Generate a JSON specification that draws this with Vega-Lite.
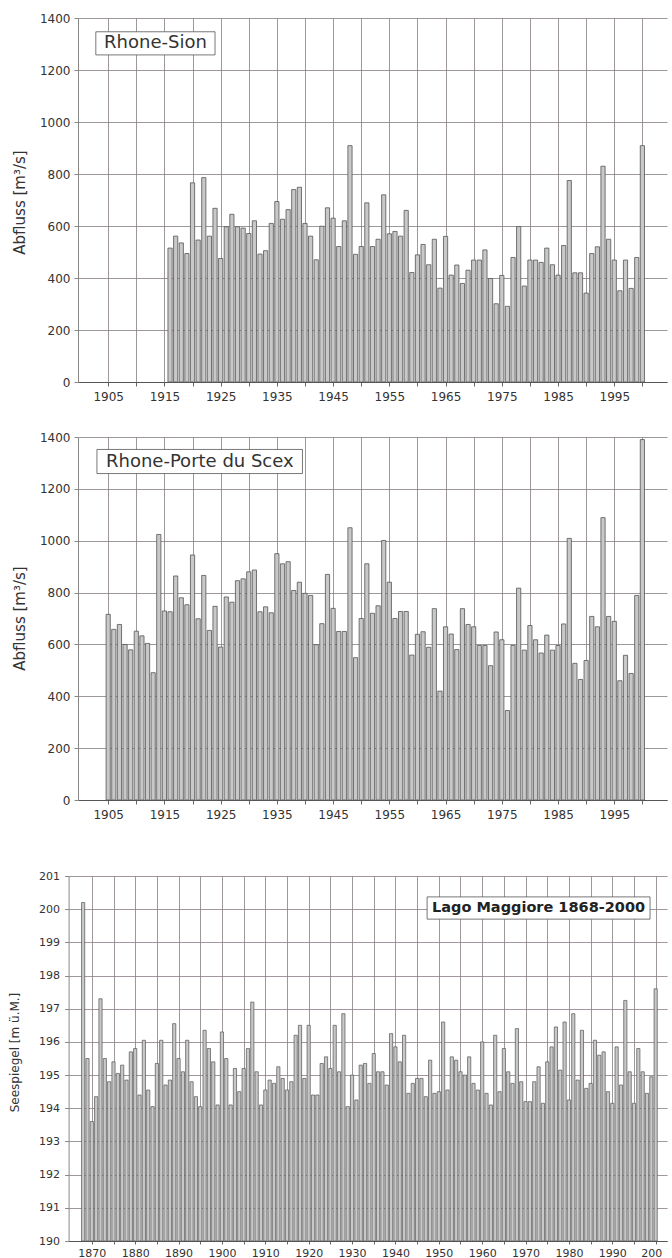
{
  "$schema": "https://vega.github.io/schema/vega-lite/v6.json",
  "background": "white",
  "padding": {"left": 8, "top": 12, "right": 0, "bottom": 0},
  "config": {"view": {"stroke": null}, "font": "DejaVu Sans"},
  "datasets": {
    "sion": [
      {"year":1916,"q":515},{"year":1917,"q":561},{"year":1918,"q":535},{"year":1919,"q":494},{"year":1920,"q":766},
      {"year":1921,"q":546},{"year":1922,"q":786},{"year":1923,"q":561},{"year":1924,"q":668},{"year":1925,"q":475},
      {"year":1926,"q":597},{"year":1927,"q":645},{"year":1928,"q":597},{"year":1929,"q":592},{"year":1930,"q":571},
      {"year":1931,"q":620},{"year":1932,"q":492},{"year":1933,"q":505},{"year":1934,"q":610},{"year":1935,"q":694},
      {"year":1936,"q":626},{"year":1937,"q":663},{"year":1938,"q":740},{"year":1939,"q":749},{"year":1940,"q":610},
      {"year":1941,"q":561},{"year":1942,"q":470},{"year":1943,"q":599},{"year":1944,"q":670},{"year":1945,"q":630},
      {"year":1946,"q":521},{"year":1947,"q":620},{"year":1948,"q":909},{"year":1949,"q":491},{"year":1950,"q":521},
      {"year":1951,"q":689},{"year":1952,"q":521},{"year":1953,"q":549},{"year":1954,"q":720},{"year":1955,"q":570},
      {"year":1956,"q":579},{"year":1957,"q":561},{"year":1958,"q":660},{"year":1959,"q":421},{"year":1960,"q":489},
      {"year":1961,"q":529},{"year":1962,"q":451},{"year":1963,"q":549},{"year":1964,"q":361},{"year":1965,"q":560},
      {"year":1966,"q":411},{"year":1967,"q":450},{"year":1968,"q":379},{"year":1969,"q":430},{"year":1970,"q":469},
      {"year":1971,"q":469},{"year":1972,"q":508},{"year":1973,"q":398},{"year":1974,"q":301},{"year":1975,"q":410},
      {"year":1976,"q":291},{"year":1977,"q":479},{"year":1978,"q":598},{"year":1979,"q":369},{"year":1980,"q":469},
      {"year":1981,"q":469},{"year":1982,"q":460},{"year":1983,"q":515},{"year":1984,"q":451},{"year":1985,"q":411},
      {"year":1986,"q":525},{"year":1987,"q":775},{"year":1988,"q":420},{"year":1989,"q":420},{"year":1990,"q":342},
      {"year":1991,"q":494},{"year":1992,"q":520},{"year":1993,"q":830},{"year":1994,"q":549},{"year":1995,"q":469},
      {"year":1996,"q":351},{"year":1997,"q":469},{"year":1998,"q":360},{"year":1999,"q":479},{"year":2000,"q":909}
    ],
    "scex": [
      {"year":1905,"q":716},{"year":1906,"q":658},{"year":1907,"q":677},{"year":1908,"q":600},{"year":1909,"q":579},
      {"year":1910,"q":651},{"year":1911,"q":633},{"year":1912,"q":604},{"year":1913,"q":491},{"year":1914,"q":1024},
      {"year":1915,"q":729},{"year":1916,"q":726},{"year":1917,"q":864},{"year":1918,"q":780},{"year":1919,"q":753},
      {"year":1920,"q":945},{"year":1921,"q":699},{"year":1922,"q":866},{"year":1923,"q":654},{"year":1924,"q":747},
      {"year":1925,"q":590},{"year":1926,"q":783},{"year":1927,"q":763},{"year":1928,"q":846},{"year":1929,"q":853},
      {"year":1930,"q":880},{"year":1931,"q":887},{"year":1932,"q":726},{"year":1933,"q":745},{"year":1934,"q":722},
      {"year":1935,"q":950},{"year":1936,"q":911},{"year":1937,"q":919},{"year":1938,"q":808},{"year":1939,"q":840},
      {"year":1940,"q":797},{"year":1941,"q":789},{"year":1942,"q":599},{"year":1943,"q":680},{"year":1944,"q":870},
      {"year":1945,"q":739},{"year":1946,"q":650},{"year":1947,"q":650},{"year":1948,"q":1050},{"year":1949,"q":549},
      {"year":1950,"q":700},{"year":1951,"q":911},{"year":1952,"q":720},{"year":1953,"q":749},{"year":1954,"q":1001},
      {"year":1955,"q":840},{"year":1956,"q":700},{"year":1957,"q":727},{"year":1958,"q":727},{"year":1959,"q":559},
      {"year":1960,"q":639},{"year":1961,"q":649},{"year":1962,"q":589},{"year":1963,"q":738},{"year":1964,"q":420},
      {"year":1965,"q":668},{"year":1966,"q":640},{"year":1967,"q":580},{"year":1968,"q":738},{"year":1969,"q":677},
      {"year":1970,"q":668},{"year":1971,"q":596},{"year":1972,"q":596},{"year":1973,"q":518},{"year":1974,"q":648},
      {"year":1975,"q":618},{"year":1976,"q":345},{"year":1977,"q":596},{"year":1978,"q":817},{"year":1979,"q":578},
      {"year":1980,"q":673},{"year":1981,"q":618},{"year":1982,"q":567},{"year":1983,"q":636},{"year":1984,"q":578},
      {"year":1985,"q":596},{"year":1986,"q":679},{"year":1987,"q":1009},{"year":1988,"q":527},{"year":1989,"q":465},
      {"year":1990,"q":538},{"year":1991,"q":708},{"year":1992,"q":668},{"year":1993,"q":1089},{"year":1994,"q":708},
      {"year":1995,"q":689},{"year":1996,"q":460},{"year":1997,"q":558},{"year":1998,"q":488},{"year":1999,"q":789},
      {"year":2000,"q":1390}
    ],
    "lago": [
      {"year":1868,"h":200.2},{"year":1869,"h":195.5},{"year":1870,"h":193.6},{"year":1871,"h":194.35},{"year":1872,"h":197.3},
      {"year":1873,"h":195.5},{"year":1874,"h":194.8},{"year":1875,"h":195.4},{"year":1876,"h":195.05},{"year":1877,"h":195.3},
      {"year":1878,"h":194.85},{"year":1879,"h":195.7},{"year":1880,"h":195.8},{"year":1881,"h":194.4},{"year":1882,"h":196.05},
      {"year":1883,"h":194.55},{"year":1884,"h":194.05},{"year":1885,"h":195.35},{"year":1886,"h":196.05},{"year":1887,"h":194.7},
      {"year":1888,"h":194.85},{"year":1889,"h":196.55},{"year":1890,"h":195.5},{"year":1891,"h":195.1},{"year":1892,"h":196.05},
      {"year":1893,"h":194.8},{"year":1894,"h":194.35},{"year":1895,"h":194.05},{"year":1896,"h":196.35},{"year":1897,"h":195.8},
      {"year":1898,"h":195.4},{"year":1899,"h":194.1},{"year":1900,"h":196.3},{"year":1901,"h":195.5},{"year":1902,"h":194.1},
      {"year":1903,"h":195.2},{"year":1904,"h":194.5},{"year":1905,"h":195.2},{"year":1906,"h":195.8},{"year":1907,"h":197.2},
      {"year":1908,"h":195.1},{"year":1909,"h":194.1},{"year":1910,"h":194.55},{"year":1911,"h":194.85},{"year":1912,"h":194.75},
      {"year":1913,"h":195.25},{"year":1914,"h":194.9},{"year":1915,"h":194.55},{"year":1916,"h":194.8},{"year":1917,"h":196.2},
      {"year":1918,"h":196.5},{"year":1919,"h":194.9},{"year":1920,"h":196.5},{"year":1921,"h":194.4},{"year":1922,"h":194.4},
      {"year":1923,"h":195.35},{"year":1924,"h":195.55},{"year":1925,"h":195.2},{"year":1926,"h":196.5},{"year":1927,"h":195.1},
      {"year":1928,"h":196.85},{"year":1929,"h":194.05},{"year":1930,"h":195.0},{"year":1931,"h":194.25},{"year":1932,"h":195.3},
      {"year":1933,"h":195.35},{"year":1934,"h":194.75},{"year":1935,"h":195.65},{"year":1936,"h":195.1},{"year":1937,"h":195.1},
      {"year":1938,"h":194.7},{"year":1939,"h":196.25},{"year":1940,"h":195.85},{"year":1941,"h":195.4},{"year":1942,"h":196.2},
      {"year":1943,"h":194.45},{"year":1944,"h":194.75},{"year":1945,"h":194.9},{"year":1946,"h":194.9},{"year":1947,"h":194.35},
      {"year":1948,"h":195.45},{"year":1949,"h":194.45},{"year":1950,"h":194.5},{"year":1951,"h":196.6},{"year":1952,"h":194.55},
      {"year":1953,"h":195.55},{"year":1954,"h":195.45},{"year":1955,"h":195.1},{"year":1956,"h":195.0},{"year":1957,"h":195.55},
      {"year":1958,"h":194.75},{"year":1959,"h":194.55},{"year":1960,"h":196.0},{"year":1961,"h":194.45},{"year":1962,"h":194.1},
      {"year":1963,"h":196.2},{"year":1964,"h":194.5},{"year":1965,"h":195.8},{"year":1966,"h":195.1},{"year":1967,"h":194.75},
      {"year":1968,"h":196.4},{"year":1969,"h":194.8},{"year":1970,"h":194.2},{"year":1971,"h":194.2},{"year":1972,"h":194.8},
      {"year":1973,"h":195.25},{"year":1974,"h":194.15},{"year":1975,"h":195.4},{"year":1976,"h":195.85},{"year":1977,"h":196.45},
      {"year":1978,"h":195.15},{"year":1979,"h":196.6},{"year":1980,"h":194.25},{"year":1981,"h":196.85},{"year":1982,"h":194.85},
      {"year":1983,"h":196.35},{"year":1984,"h":194.6},{"year":1985,"h":194.75},{"year":1986,"h":196.05},{"year":1987,"h":195.6},
      {"year":1988,"h":195.7},{"year":1989,"h":194.5},{"year":1990,"h":194.15},{"year":1991,"h":195.85},{"year":1992,"h":194.7},
      {"year":1993,"h":197.25},{"year":1994,"h":195.1},{"year":1995,"h":194.15},{"year":1996,"h":195.8},{"year":1997,"h":195.1},
      {"year":1998,"h":194.45},{"year":1999,"h":194.95},{"year":2000,"h":197.6}
    ]
  },
  "spacing": 50,
  "vconcat": [
    {
      "spacing": 29,
      "vconcat": [
        {
          "width": 589, "height": 364,
          "layer": [
            {
              "data": {"name": "sion"},
              "mark": {"type": "bar", "width": 4.2, "fill": "#c8c8c8", "stroke": "#555555", "strokeWidth": 0.8, "clip": true},
              "encoding": {
                "x": {"field": "year", "type": "quantitative",
                  "scale": {"domain": [1900.52, 2003.49], "nice": false, "zero": false},
                  "axis": {"values": [1905,1910,1915,1920,1925,1930,1935,1940,1945,1950,1955,1960,1965,1970,1975,1980,1985,1990,1995,2000],
                    "tickCount": 200, "format": "d", "labelExpr": "datum.value % 10 == 5 ? datum.label : ''",
                    "grid": true, "gridColor": "#857d7d", "gridWidth": 0.8,
                    "ticks": true, "tickSize": 4, "tickColor": "#666666", "domainColor": "#555555",
                    "labelFont": "DejaVu Sans", "labelFontSize": 12, "labelColor": "#333333", "labelPadding": 5,
                    "labelFlush": false, "labelOverlap": false, "labelBound": false, "title": null}},
                "y": {"field": "q", "type": "quantitative",
                  "scale": {"domain": [0, 1400], "nice": false},
                  "axis": {"values": [0,200,400,600,800,1000,1200,1400], "tickCount": 200, "format": "d",
                    "grid": true, "gridColor": "#857d7d", "gridWidth": 0.8,
                    "ticks": true, "tickSize": 4, "tickColor": "#888888", "domainColor": "#888888",
                    "labelFont": "DejaVu Sans", "labelFontSize": 12, "labelColor": "#333333", "labelPadding": 4, "labelOverlap": false,
                    "title": "Abfluss [m³/s]", "titleFont": "DejaVu Sans", "titleFontSize": 15, "titleFontWeight": "normal", "titleColor": "#333333",
                    "titleAngle": -90, "titleAlign": "center", "titleBaseline": "middle", "titleX": -58.7, "titleY": 184}}
              }
            },
            {
              "data": {"values": [{"label": "Rhone-Sion"}]},
              "mark": {"type": "rect", "fill": "white", "stroke": "#555555", "strokeWidth": 0.8},
              "encoding": {
                "x": {"datum": 1902.8}, "x2": {"datum": 1924.0},
                "y": {"datum": 1347}, "y2": {"datum": 1258}
              }
            },
            {
              "data": {"values": [{"label": "Rhone-Sion"}]},
              "mark": {"type": "text", "font": "DejaVu Sans", "fontSize": 18, "color": "#333333", "align": "center", "baseline": "middle"},
              "encoding": {
                "x": {"datum": 1913.4},
                "y": {"datum": 1302},
                "text": {"field": "label"}
              }
            }
          ]
        },
        {
          "width": 589, "height": 363,
          "layer": [
            {
              "data": {"name": "scex"},
              "mark": {"type": "bar", "width": 4.2, "fill": "#c8c8c8", "stroke": "#555555", "strokeWidth": 0.8, "clip": true},
              "encoding": {
                "x": {"field": "year", "type": "quantitative",
                  "scale": {"domain": [1900.52, 2003.49], "nice": false, "zero": false},
                  "axis": {"values": [1905,1910,1915,1920,1925,1930,1935,1940,1945,1950,1955,1960,1965,1970,1975,1980,1985,1990,1995,2000],
                    "tickCount": 200, "format": "d", "labelExpr": "datum.value % 10 == 5 ? datum.label : ''",
                    "grid": true, "gridColor": "#857d7d", "gridWidth": 0.8,
                    "ticks": true, "tickSize": 4, "tickColor": "#666666", "domainColor": "#555555",
                    "labelFont": "DejaVu Sans", "labelFontSize": 12, "labelColor": "#333333", "labelPadding": 5,
                    "labelFlush": false, "labelOverlap": false, "labelBound": false, "title": null}},
                "y": {"field": "q", "type": "quantitative",
                  "scale": {"domain": [0, 1400], "nice": false},
                  "axis": {"values": [0,200,400,600,800,1000,1200,1400], "tickCount": 200, "format": "d",
                    "grid": true, "gridColor": "#857d7d", "gridWidth": 0.8,
                    "ticks": true, "tickSize": 4, "tickColor": "#888888", "domainColor": "#888888",
                    "labelFont": "DejaVu Sans", "labelFontSize": 12, "labelColor": "#333333", "labelPadding": 4, "labelOverlap": false,
                    "title": "Abfluss [m³/s]", "titleFont": "DejaVu Sans", "titleFontSize": 15, "titleFontWeight": "normal", "titleColor": "#333333",
                    "titleAngle": -90, "titleAlign": "center", "titleBaseline": "middle", "titleX": -58.7, "titleY": 181}}
              }
            },
            {
              "data": {"values": [{"label": "Rhone-Porte du Scex"}]},
              "mark": {"type": "rect", "fill": "white", "stroke": "#555555", "strokeWidth": 0.8},
              "encoding": {
                "x": {"datum": 1903.0}, "x2": {"datum": 1939.55},
                "y": {"datum": 1352}, "y2": {"datum": 1259}
              }
            },
            {
              "data": {"values": [{"label": "Rhone-Porte du Scex"}]},
              "mark": {"type": "text", "font": "DejaVu Sans", "fontSize": 18, "color": "#333333", "align": "center", "baseline": "middle"},
              "encoding": {
                "x": {"datum": 1921.3},
                "y": {"datum": 1305.5},
                "text": {"field": "label"}
              }
            }
          ]
        }
      ]
    },
    {
      "width": 589.1, "height": 365,
      "layer": [
        {
          "data": {"name": "lago"},
          "mark": {"type": "bar", "width": 3.2, "fill": "#c8c8c8", "stroke": "#555555", "strokeWidth": 0.7, "clip": false},
          "encoding": {
            "x": {"field": "year", "type": "quantitative",
              "scale": {"domain": [1865.8, 2001.48], "range": [-9.4, 589.1], "nice": false, "zero": false},
              "axis": {"values": [1870,1875,1880,1885,1890,1895,1900,1905,1910,1915,1920,1925,1930,1935,1940,1945,1950,1955,1960,1965,1970,1975,1980,1985,1990,1995,2000],
                "tickCount": 200, "format": "d", "labelExpr": "datum.value % 10 != 0 ? '' : (datum.value == 2000 ? '200' : datum.label)",
                "labelAlign": {"condition": {"test": "datum.value == 2000", "value": "left"}, "value": "center"},
                "labelOffset": {"condition": {"test": "datum.value == 2000", "value": -15}, "value": 0},
                "grid": true, "gridColor": "#857d7d", "gridWidth": 0.8,
                "ticks": true, "tickSize": 3, "tickColor": "#666666", "domainColor": "#555555",
                "labelFont": "DejaVu Sans", "labelFontSize": 11, "labelColor": "#333333", "labelPadding": 3,
                "labelFlush": false, "labelOverlap": false, "labelBound": false, "title": null}},
            "y": {"field": "h", "type": "quantitative",
              "scale": {"domain": [190, 201], "nice": false, "zero": false},
              "axis": {"values": [190,191,192,193,194,195,196,197,198,199,200,201], "tickCount": 200, "format": "d",
                "offset": 9.4,
                "grid": true, "gridColor": "#8a7c88", "gridWidth": 0.8,
                "ticks": true, "tickSize": 4, "tickColor": "#888888", "domainColor": "#888888",
                "labelFont": "DejaVu Sans", "labelFontSize": 11, "labelColor": "#333333", "labelPadding": 5, "labelOverlap": false,
                "title": "Seespiegel [m ü.M.]", "titleFont": "DejaVu Sans", "titleFontSize": 12, "titleFontWeight": "normal", "titleColor": "#333333",
                "titleAngle": -90, "titleAlign": "center", "titleBaseline": "middle", "titleX": -54, "titleY": 176}},
            "y2": {"datum": 190}
          }
        },
        {
          "data": {"values": [{"label": "Lago Maggiore 1868-2000"}]},
          "mark": {"type": "rect", "fill": "white", "stroke": "#555555", "strokeWidth": 0.8},
          "encoding": {
            "x": {"datum": 1947.3}, "x2": {"datum": 1998.7},
            "y": {"datum": 200.37}, "y2": {"datum": 199.7}
          }
        },
        {
          "data": {"values": [{"label": "Lago Maggiore 1868-2000"}]},
          "mark": {"type": "text", "font": "DejaVu Sans", "fontSize": 14.5, "fontWeight": "bold", "color": "#222222", "align": "center", "baseline": "middle"},
          "encoding": {
            "x": {"datum": 1973.0},
            "y": {"datum": 200.04},
            "text": {"field": "label"}
          }
        }
      ]
    }
  ]
}
